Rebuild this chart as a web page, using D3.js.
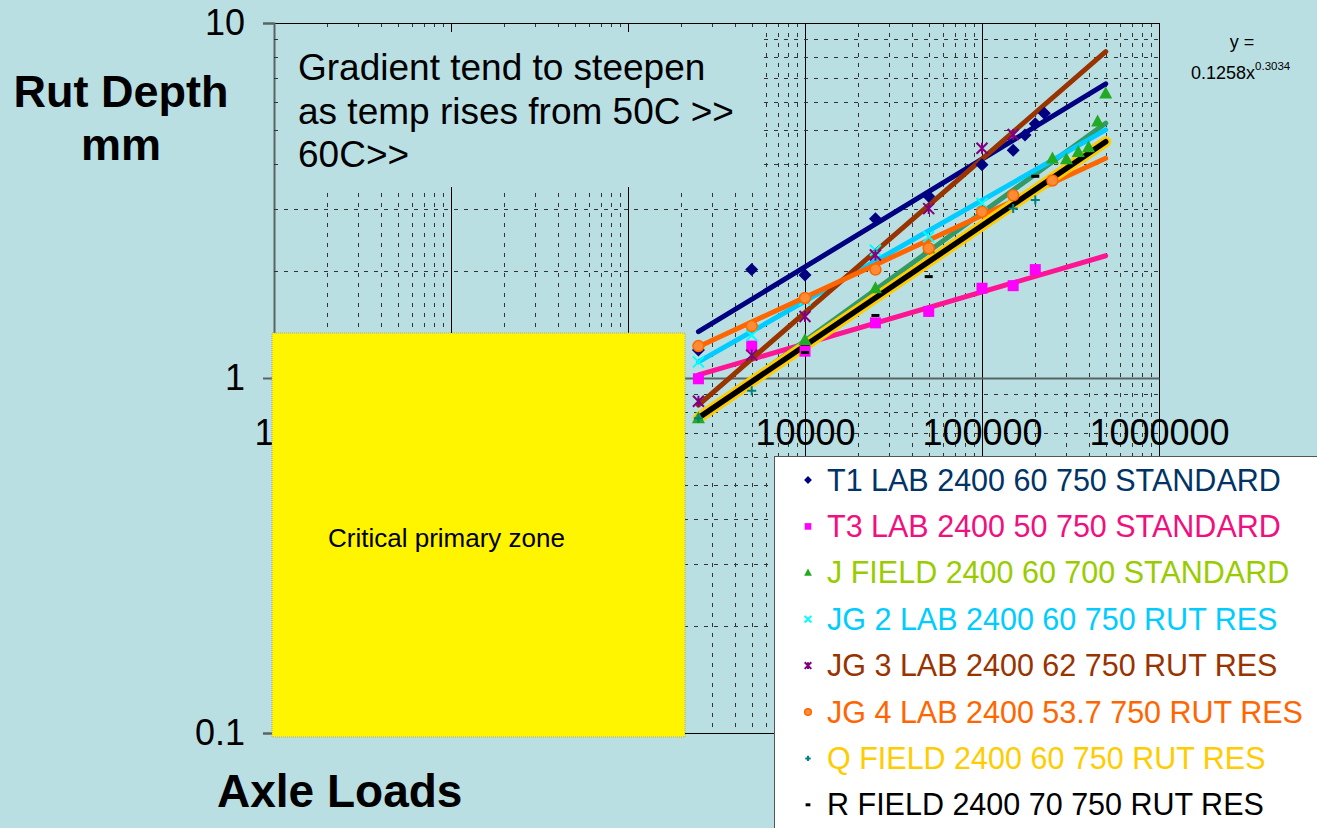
<!DOCTYPE html>
<html>
<head>
<meta charset="utf-8">
<script src="https://d3js.org/d3.v7.min.js"></script>
<style>
  body { margin: 0; background: #B9DFE3; }
  svg { display: block; font-family: "Liberation Sans", Arial, sans-serif; }
</style>
</head>
<body>
<div id="main"></div>
<script>
// series names (legend order)
var seriesNames = [
    "T1 LAB 2400 60 750 STANDARD",
    "T3 LAB 2400 50 750 STANDARD",
    "J FIELD 2400 60 700 STANDARD",
    "JG 2 LAB 2400 60 750 RUT RES",
    "JG 3 LAB 2400 62 750 RUT RES",
    "JG 4 LAB 2400 53.7 750 RUT RES",
    "Q FIELD 2400 60 750 RUT RES",
    "R FIELD 2400 70 750 RUT RES"
];

// measured points: axle loads / rut depth (mm)
var t1Loads = [2500, 5000, 10000, 25000, 50000, 100000, 150000, 175000, 200000, 225000];
var t1Rut = [1.2, 2.02, 1.95, 2.81, 3.25, 3.99, 4.38, 4.84, 5.2, 5.57];
var t3Loads = [2500, 5000, 10000, 25000, 50000, 100000, 150000, 200000];
var t3Rut = [0.995, 1.23, 1.19, 1.43, 1.54, 1.79, 1.82, 2.02];
var jLoads = [2500, 10000, 25000, 50000, 250000, 300000, 350000, 400000, 450000, 500000];
var jRut = [0.77, 1.28, 1.79, 2.32, 4.15, 4.13, 4.33, 4.47, 5.28, 6.33];
var jg2Loads = [2500, 5000, 10000, 25000, 50000, 100000];
var jg2Rut = [1.11, 1.32, 1.66, 2.29, 2.5, 3.1];
var jg3Loads = [2500, 5000, 10000, 25000, 50000, 100000, 150000];
var jg3Rut = [0.86, 1.16, 1.49, 2.22, 3.0, 4.44, 4.85];
var jg4Loads = [2500, 5000, 10000, 25000, 50000, 100000, 150000, 250000];
var jg4Rut = [1.23, 1.40, 1.68, 2.02, 2.32, 2.94, 3.27, 3.6];
var qLoads = [2500, 5000, 150000, 200000];
var qRut = [0.77, 0.92, 3.0, 3.17];
var rLoads = [10000, 25000, 50000, 200000];
var rRut = [1.18, 1.5, 1.93, 3.7];

// power trend lines, read at both ends
var trendLoads = [2500, 500000];
var trendStart = [1.35, 1.02, 0.772, 1.11, 0.839, 1.225, 0.772, 0.772];
var trendEnd = [6.74, 2.21, 5.22, 5.0, 8.3, 4.16, 4.63, 4.63];

// axes
var xTickValues = [10, 100, 1000, 10000, 100000, 1000000];
var yTickValues = [0.1, 1, 10];

var ctx = {
    w: 1317,
    h: 828,
    left: 274,
    right: 1159,
    top: 23,
    bottom: 733,
    bg: "#B9DFE3",
    font: 36,
    textColors: ["#003366", "#F0107F", "#99CC00", "#00CCFF", "#993300", "#FF6600", "#FFCC00", "#000000"],
    lineColors: ["#000080", "#FF1493", "#339966", "#00CCFF", "#993300", "#FF6600", "#FFCC00", "#000000"],
    lineWidths: [5, 5, 5, 5, 5, 5, 11, 5.5],
    markColors: ["#000080", "#FF00FF", "#22AA22", "#00FFFF", "#800080", "#FF6600", "#008080", "#000000"],
    shapes: ["diamond", "square", "triangle", "x", "star", "circle", "plus", "dash"]
};

// draws one marker shape into g, scale k
var drawMarker = function(g, shape, color, k) {
    if (shape == "diamond") {
        g.append("path").attr("d", "M0," + (-6.5 * k) + "L" + (6.5 * k) + ",0L0," + (6.5 * k) + "L" + (-6.5 * k) + ",0Z").attr("fill", color);
    } else if (shape == "square") {
        g.append("rect").attr("x", -5.5 * k).attr("y", -5.5 * k).attr("width", 11 * k).attr("height", 11 * k).attr("fill", color);
    } else if (shape == "triangle") {
        g.append("path").attr("d", "M0," + (-7 * k) + "L" + (6.5 * k) + "," + (5 * k) + "L" + (-6.5 * k) + "," + (5 * k) + "Z").attr("fill", color);
    } else if (shape == "circle") {
        g.append("circle").attr("r", 5.5 * k).attr("fill", "#FF8C33").attr("stroke", color).attr("stroke-width", 1.5);
    } else if (shape == "dash") {
        g.append("rect").attr("x", -4 * k).attr("y", -1.5).attr("width", 8 * k).attr("height", 3).attr("fill", color);
    } else {
        var r = 5.5 * k, p = "";
        if (shape == "x" || shape == "star") {
            p += "M" + (-r) + "," + (-r) + "L" + r + "," + r + "M" + (-r) + "," + r + "L" + r + "," + (-r);
        }
        if (shape == "star") {
            p += "M0," + (-r) + "L0," + r;
        }
        if (shape == "plus") {
            r = 4.5 * k;
            p += "M" + (-r) + ",0L" + r + ",0M0," + (-r) + "L0," + r;
        }
        g.append("path").attr("d", p).attr("fill", "none").attr("stroke", color).attr("stroke-width", 2);
    }
};

var createChart = function(svg) {
    var x = d3.scaleLog().domain([10, 1000000]).range([ctx.left, ctx.right]);
    var y = d3.scaleLog().domain([0.1, 10]).range([ctx.bottom, ctx.top]);

    var loads = [t1Loads, t3Loads, jLoads, jg2Loads, jg3Loads, jg4Loads, qLoads, rLoads];
    var ruts = [t1Rut, t3Rut, jRut, jg2Rut, jg3Rut, jg4Rut, qRut, rRut];

    // 1. grid: dashed minor lines, solid decades
    var grid = svg.append("g");
    var isDecade = function(v) { return Math.abs(Math.log10(v) - Math.round(Math.log10(v))) < 1e-9; };
    grid.selectAll("line.vx")
        .data(x.ticks().filter(function(v) { return v > 10 && v < 1000000; }))
        .enter().append("line")
        .attr("x1", function(d) { return Math.round(x(d)) + 0.5; })
        .attr("x2", function(d) { return Math.round(x(d)) + 0.5; })
        .attr("y1", ctx.top).attr("y2", ctx.bottom)
        .attr("stroke", function(d) { return isDecade(d) ? "#000" : "#333"; })
        .attr("stroke-dasharray", function(d) { return isDecade(d) ? null : "4,6"; });
    grid.selectAll("line.hy")
        .data(y.ticks().filter(function(v) { return !isDecade(v); }))
        .enter().append("line")
        .attr("x1", ctx.left).attr("x2", ctx.right)
        .attr("y1", function(d) { return Math.round(y(d)) + 0.5; })
        .attr("y2", function(d) { return Math.round(y(d)) + 0.5; })
        .attr("stroke", "#333")
        .attr("stroke-dasharray", "4,6");

    // plot border
    svg.append("rect")
        .attr("x", ctx.left + 0.5).attr("y", ctx.top + 0.5)
        .attr("width", ctx.right - ctx.left).attr("height", ctx.bottom - ctx.top)
        .attr("fill", "none").attr("stroke", "#000");

    // 2. y axis (with minor ticks inside)
    var yAxis = svg.append("g")
        .attr("transform", "translate(" + ctx.left + ",0)")
        .call(d3.axisLeft(y).tickValues(yTickValues).tickSize(11).tickPadding(18)
            .tickFormat(function(d) { return d3.format("~g")(d); }));
    yAxis.select(".domain").attr("stroke", "#5a6464").attr("stroke-width", 2);
    yAxis.selectAll(".tick line").attr("stroke", "#5a6464").attr("stroke-width", 2);
    yAxis.selectAll("text").attr("font-size", ctx.font).attr("fill", "#000").style("font-family", "inherit");
    yAxis.selectAll("line.minor")
        .data(y.ticks().filter(function(v) { return !isDecade(v); }))
        .enter().append("line").attr("class", "minor")
        .attr("x1", 0).attr("x2", 4)
        .attr("y1", function(d) { return Math.round(y(d)) + 0.5; })
        .attr("y2", function(d) { return Math.round(y(d)) + 0.5; })
        .attr("stroke", "#333");

    // 3. x axis crosses at 1
    var xAxis = svg.append("g")
        .attr("transform", "translate(0," + y(1) + ")")
        .call(d3.axisBottom(x).tickValues(xTickValues).tickSize(0).tickPadding(41)
            .tickFormat(d3.format("d")));
    xAxis.select(".domain").attr("stroke", "#5a6464").attr("stroke-width", 2);
    xAxis.selectAll("text").attr("font-size", ctx.font).attr("fill", "#000").style("font-family", "inherit");

    // 4. text box covering the top grid
    svg.append("rect").attr("x", 278).attr("y", 32).attr("width", 484).attr("height", 155).attr("fill", ctx.bg);
    var note = svg.append("text").attr("font-size", 37).attr("fill", "#000");
    ["Gradient tend to steepen", "as temp rises from 50C >>", "60C>>"].forEach(function(s, i) {
        note.append("tspan").attr("x", 298).attr("y", 80 + i * 43.5).text(s);
    });

    // 5. yellow zone
    svg.append("rect").attr("x", 272).attr("y", 333).attr("width", 413).attr("height", 404)
        .attr("fill", "#FFF500").attr("stroke", "#999").attr("stroke-dasharray", "1,1").attr("stroke-width", 0.8);
    svg.append("text").attr("x", 328).attr("y", 547).attr("font-size", 26).attr("fill", "#000")
        .text("Critical primary zone");

    // 6. trend lines then markers
    var line = d3.line().x(function(d) { return x(d[0]); }).y(function(d) { return y(d[1]); });
    seriesNames.forEach(function(name, i) {
        svg.append("path")
            .datum([[trendLoads[0], trendStart[i]], [trendLoads[1], trendEnd[i]]])
            .attr("d", line)
            .attr("fill", "none")
            .attr("stroke", ctx.lineColors[i])
            .attr("stroke-width", ctx.lineWidths[i])
            .attr("stroke-linecap", "round");
    });
    seriesNames.forEach(function(name, i) {
        svg.selectAll("g.m" + i)
            .data(loads[i])
            .enter().append("g").attr("class", "m" + i)
            .attr("transform", function(d, j) { return "translate(" + x(d) + "," + y(ruts[i][j]) + ")"; })
            .each(function() { drawMarker(d3.select(this), ctx.shapes[i], ctx.markColors[i], 1); });
    });

    // 7. legend
    var legend = svg.append("g");
    legend.append("rect").attr("x", 774.5).attr("y", 456.5).attr("width", 600).attr("height", 400)
        .attr("fill", "#fff").attr("stroke", "#555");
    var rows = legend.selectAll("g.row")
        .data(seriesNames)
        .enter().append("g").attr("class", "row")
        .attr("transform", function(d, i) { return "translate(808," + (480 + i * 46.4) + ")"; });
    rows.each(function(d, i) { drawMarker(d3.select(this), ctx.shapes[i], ctx.markColors[i], 0.6); });
    rows.append("text")
        .attr("x", 19).attr("y", 10.5)
        .attr("font-size", 30.5)
        .attr("fill", function(d, i) { return ctx.textColors[i]; })
        .text(function(d) { return d; });

    // 8. titles and equation
    svg.append("text").attr("x", 121).attr("y", 107).attr("text-anchor", "middle")
        .attr("font-size", 45).attr("font-weight", "bold").text("Rut Depth");
    svg.append("text").attr("x", 121).attr("y", 160).attr("text-anchor", "middle")
        .attr("font-size", 45).attr("font-weight", "bold").text("mm");
    svg.append("text").attr("x", 217).attr("y", 807)
        .attr("font-size", 46).attr("font-weight", "bold").text("Axle Loads");
    svg.append("text").attr("x", 1242).attr("y", 48).attr("text-anchor", "middle")
        .attr("font-size", 18).text("y =");
    var eq = svg.append("text").attr("x", 1191).attr("y", 79).attr("font-size", 18);
    eq.append("tspan").text("0.1258x");
    eq.append("tspan").attr("font-size", 11.5).attr("dy", -9).text("0.3034");
};

var createViz = function() {
    var svgEl = d3.select("#main").append("svg")
        .attr("width", ctx.w)
        .attr("height", ctx.h);
    svgEl.append("rect").attr("width", ctx.w).attr("height", ctx.h).attr("fill", ctx.bg);
    createChart(svgEl);
};

createViz();
</script>
</body>
</html>
